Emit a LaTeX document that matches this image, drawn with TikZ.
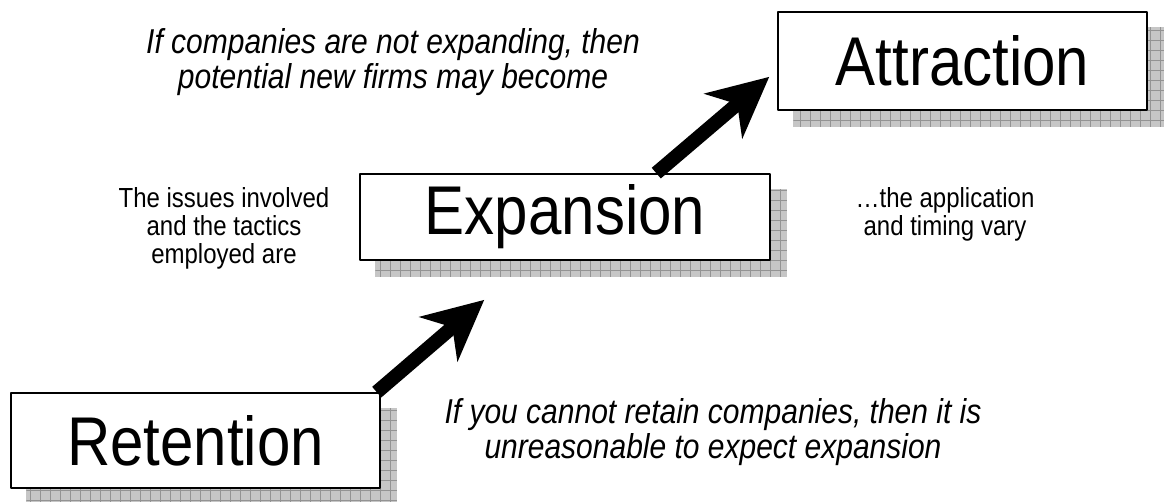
\documentclass[tikz,border=0pt]{standalone}
\usepackage{fontspec}
\setmainfont{Liberation Sans}
\usetikzlibrary{arrows.meta,calc,backgrounds}
\begin{document}
\begin{tikzpicture}[x=1pt,y=-1pt, line join=round,
    stage/.style={draw,line width=1.5pt,fill=white,inner sep=0pt,yscale=1.15,
        font=\fontsize{60}{60}\selectfont},
    note/.style={align=center,yscale=1.15,font=\fontsize{24}{24.3}\selectfont},
    claim/.style={align=center,yscale=1.15,font=\fontsize{30}{30.4}\selectfont\itshape},
    bigarrow/.style={line width=14pt,-{Stealth[length=60pt,width=58pt,inset=18pt]}}]
    \def\sh{16}
    \useasboundingbox (0,0) rectangle (1164,502);
    % the three stages
    \node[stage,minimum width=369pt,minimum height=82.6pt] (ret) at (195.5,440.5) {Retention};
    \node[stage,minimum width=410pt,minimum height=74.8pt] (exp) at (565,217) {Expansion};
    \node[stage,minimum width=369pt,minimum height=85.2pt] (att) at (962.5,61) {Attraction};
    % shaded drop shadows
    \begin{scope}[on background layer]
        \foreach \n in {ret,exp,att}{
            \fill[gray!45] ($(\n.south west)+(\sh,\sh)$) rectangle ($(\n.north east)+(\sh,\sh)$);
            \begin{scope}
                \clip ($(\n.south west)+(\sh,\sh)$) rectangle ($(\n.north east)+(\sh,\sh)$);
                \draw[gray!85,line width=0.7pt,step=10pt] (0,0) grid (1164,502);
            \end{scope}
        }
    \end{scope}
    % arrows between stages
    \coordinate (tip1) at ($(exp.south west)+(125,39)$);
    \coordinate (tip2) at ($(att.south west)+(-8,-34)$);
    \draw[bigarrow] ($(ret.north east)+(-4,0)$) -- (tip1);
    \draw[bigarrow] ($(exp.north west)+(297,0)$) -- (tip2);
    % explanations
    \node[claim] (topnote) at (393,62) {If companies are not expanding, then\\potential new firms may become};
    \node[note] (leftnote) at (224,228) {The issues involved\\and the tactics\\employed are};
    \node[note] (rightnote) at (945,214) {…the application\\and timing vary};
    \node[claim] (botnote) at (713,432) {If you cannot retain companies, then it is\\unreasonable to expect expansion};
\end{tikzpicture}
\end{document}
